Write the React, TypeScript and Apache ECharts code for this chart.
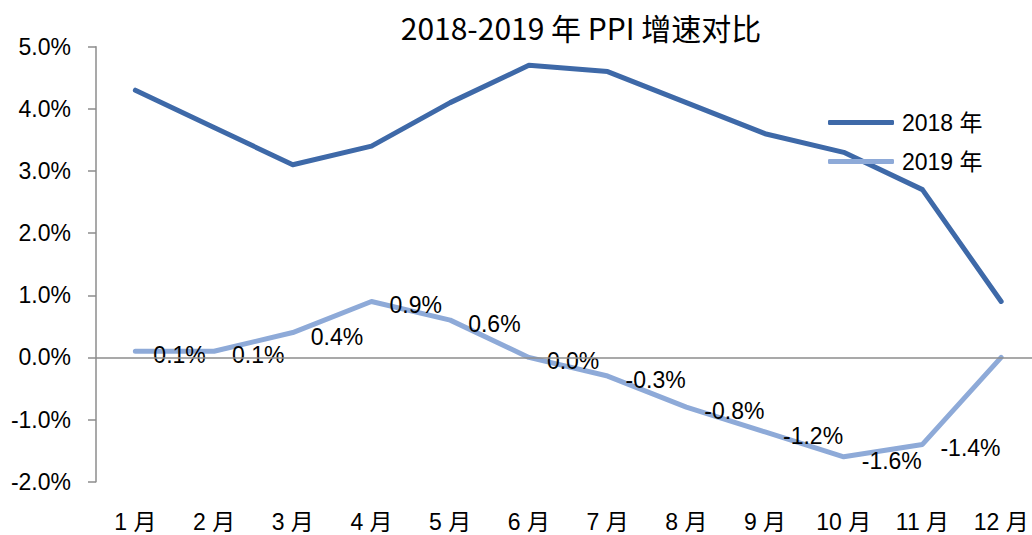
import React, { useEffect, useRef } from "react";
import * as echarts from "echarts";

const categories = ["1 月", "2 月", "3 月", "4 月", "5 月", "6 月", "7 月", "8 月", "9 月", "10 月", "11 月", "12 月"];
const series2018 = [4.3, 3.7, 3.1, 3.4, 4.1, 4.7, 4.6, 4.1, 3.6, 3.3, 2.7, 0.9];
const series2019 = [0.1, 0.1, 0.4, 0.9, 0.6, 0.0, -0.3, -0.8, -1.2, -1.6, -1.4, 0.0];
const labelShown2019 = [true, true, true, true, true, true, true, true, true, true, true, false];
const titleText = "2018-2019 年 PPI 增速对比";
const seriesNames = ["2018 年", "2019 年"];

const FONT = "'Liberation Sans', 'Noto Sans CJK SC', sans-serif";

export default function App() {
  const ref = useRef<HTMLDivElement>(null);
  useEffect(() => {
    if (!ref.current) return;
    document.body.style.overflow = "hidden";
    const chart = echarts.init(ref.current, undefined, { renderer: "svg" });
    chart.setOption({
      animation: false,
      backgroundColor: "#ffffff",
      textStyle: { fontFamily: FONT },
      graphic: [
        {
          type: "text",
          x: 581,
          y: 27,
          style: {
            text: titleText,
            fontSize: 30,
            fontFamily: "'Noto Sans CJK SC', sans-serif",
            fill: "#000000",
            textAlign: "center",
            textVerticalAlign: "middle",
          },
        },
      ],
      grid: { left: 96, right: 1.5, top: 46.7, bottom: 53.3, containLabel: false },
      legend: {
        orient: "vertical",
        left: 828,
        top: 111,
        padding: 0,
        itemWidth: 66,
        itemHeight: 5,
        itemGap: 16,
        icon: "roundRect",
        textStyle: { fontSize: 23, color: "#000000", fontFamily: FONT, padding: [0, 0, 0, 3] },
        data: seriesNames,
      },
      xAxis: {
        type: "category",
        data: categories,
        boundaryGap: true,
        axisLine: { show: false },
        axisTick: { show: false },
        axisLabel: { margin: 29, fontSize: 23, color: "#000000", fontFamily: FONT },
        splitLine: { show: false },
      },
      yAxis: {
        type: "value",
        min: -2,
        max: 5,
        interval: 1,
        axisLine: { show: true, lineStyle: { color: "#8c8c8c", width: 1.5 } },
        axisTick: { show: true, length: 8, lineStyle: { color: "#8c8c8c", width: 1.5 } },
        axisLabel: {
          margin: 25,
          fontSize: 23,
          color: "#000000",
          fontFamily: FONT,
          formatter: (v: number) => v.toFixed(1) + "%",
        },
        splitLine: { show: false },
      },
      series: [
        {
          name: seriesNames[0],
          type: "line",
          data: series2018,
          symbol: "none",
          z: 2,
          lineStyle: { color: "#3e69a8", width: 5, cap: "round", join: "round" },
          itemStyle: { color: "#3e69a8" },
          markLine: {
            silent: true,
            symbol: ["none", "none"],
            label: { show: false },
            lineStyle: { color: "#8c8c8c", width: 1.5, type: "solid" },
            data: [{ yAxis: 0 }],
          },
        },
        {
          name: seriesNames[1],
          type: "line",
          data: series2019.map((v, i) => ({ value: v, label: { show: labelShown2019[i] } })),
          symbol: "circle",
          symbolSize: 0,
          showSymbol: true,
          z: 3,
          lineStyle: { color: "#8eaad8", width: 5, cap: "round", join: "round" },
          itemStyle: { color: "#8eaad8" },
          label: {
            show: true,
            position: "right",
            distance: 18,
            offset: [0, 4],
            fontSize: 23,
            color: "#000000",
            fontFamily: FONT,
            formatter: (p: any) => Number(p.value).toFixed(1) + "%",
          },
        },
      ],
    });
    return () => chart.dispose();
  }, []);
  return <div ref={ref} style={{ position: "fixed", left: 0, top: 0, width: 1042, height: 535 }} />;
}
